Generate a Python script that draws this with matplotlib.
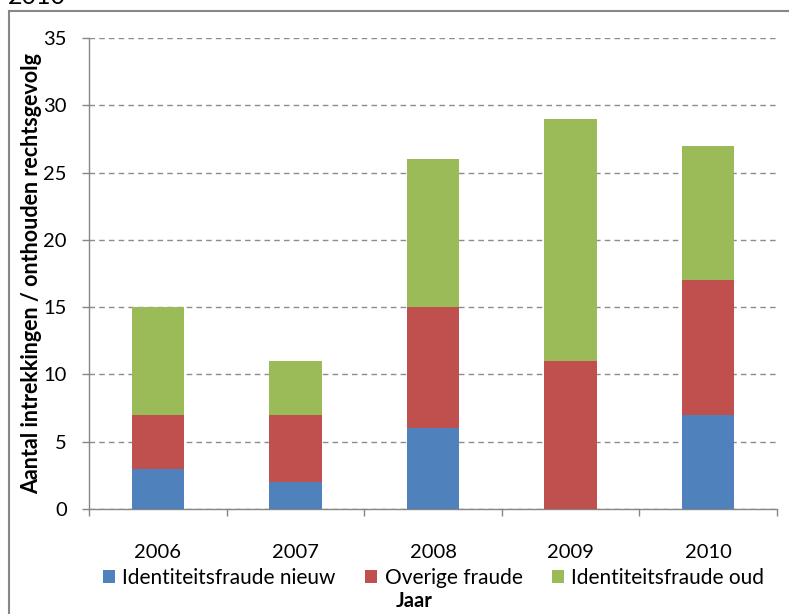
import matplotlib
matplotlib.use("Agg")
import matplotlib.pyplot as plt
from matplotlib.patches import Rectangle, Patch
import numpy as np

plt.rcParams['font.family'] = ['Lato', 'DejaVu Sans']

years = ['2006', '2007', '2008', '2009', '2010']
id_nieuw = [3, 2, 6, 0, 7]
overige = [4, 5, 9, 11, 10]
id_oud = [8, 4, 11, 18, 10]
series_names = ['Identiteitsfraude nieuw', 'Overige fraude', 'Identiteitsfraude oud']
colors = ['#4F81BD', '#C0504D', '#9BBB59']

W, H = 789, 614
fig = plt.figure(figsize=(W / 100, H / 100), dpi=100)
ax = fig.add_axes([89 / W, 1 - 509 / H, (777 - 89) / W, (509 - 38) / H])

x = np.arange(len(years))
b1 = np.array(id_nieuw)
b2 = b1 + np.array(overige)
ax.bar(x, id_nieuw, width=0.38, color=colors[0], zorder=3)
ax.bar(x, overige, width=0.38, bottom=b1, color=colors[1], zorder=3)
ax.bar(x, id_oud, width=0.38, bottom=b2, color=colors[2], zorder=3)

ax.set_xlim(-0.5, len(years) - 0.5)
ax.set_ylim(0, 35)
ax.set_yticks(range(0, 36, 5))
ax.set_xticks(x)
ax.set_xticklabels(years)
ax.set_xticks(np.arange(-0.5, len(years), 1.0), minor=True)
ax.tick_params(axis='x', which='major', length=0, pad=25, labelsize=14.5)
ax.tick_params(axis='x', which='minor', length=5, color='#868686', width=1)
ax.tick_params(axis='y', length=5, color='#868686', width=1, labelsize=14.5, pad=11)
ax.yaxis.grid(True, color='#8c8c8c', linestyle=(0, (4, 3)), linewidth=1, zorder=0)
for s in ['top', 'right']:
    ax.spines[s].set_visible(False)
for s in ['left', 'bottom']:
    ax.spines[s].set_color('#868686')
    ax.spines[s].set_linewidth(1)

ax.set_ylabel('Aantal intrekkingen / onthouden rechtsgevolg', fontsize=15.5,
              fontweight='bold')
ax.yaxis.set_label_coords(-(89 - 32) / (777 - 89), 0.5)
ax.yaxis.label.set_va('center')

handles = [Patch(facecolor=c, edgecolor='none') for c in colors]
fig.legend(handles, series_names, loc='center', bbox_to_anchor=(433.5 / W, 1 - 578 / H),
           ncol=3, frameon=False, fontsize=15, handlelength=0.6, handleheight=0.6,
           handletextpad=0.35, columnspacing=1.4, borderaxespad=0, borderpad=0)

fig.text(414 / W, 1 - 607 / H, 'Jaar', ha='center', va='baseline', fontsize=14.5,
         fontweight='bold')

fig.text(8 / W, 1 - 3.5 / H, '2010', ha='left', va='baseline', fontsize=18, color='black')

fig.patches.append(Rectangle((8.5 / W, -0.1), 1.2, 1 + 0.1 - 11 / H, transform=fig.transFigure,
                             fill=False, edgecolor='#878787', linewidth=1.5, figure=fig))

fig.savefig('out.png', dpi=100)
